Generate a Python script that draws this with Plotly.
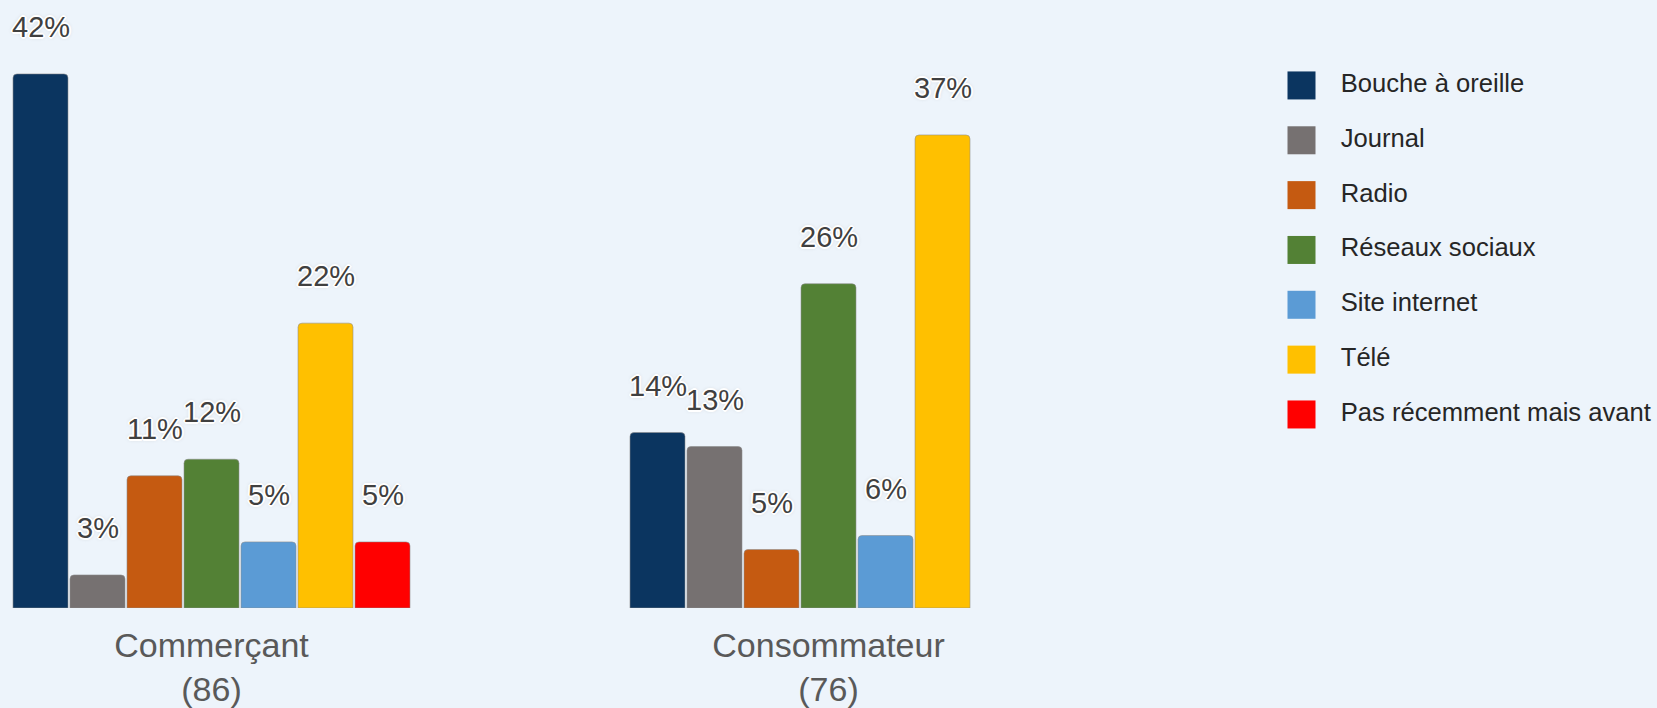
import plotly.graph_objects as go

categories = ["Commerçant<br>(86)", "Consommateur<br>(76)"]
series = ["Bouche à oreille", "Journal", "Radio", "Réseaux sociaux",
          "Site internet", "Télé", "Pas récemment mais avant"]
colors = ["#0B3560", "#767171", "#C55A11", "#538135", "#5B9BD5", "#FFC000", "#FF0000"]

# values per series: [Commerçant, Consommateur]
values = [
    [42.0, 13.8],
    [2.6, 12.7],
    [10.4, 4.6],
    [11.7, 25.5],
    [5.2, 5.7],
    [22.4, 37.2],
    [5.2, None],
]
labels = [
    ["42%", "14%"],
    ["3%", "13%"],
    ["11%", "5%"],
    ["12%", "26%"],
    ["5%", "6%"],
    ["22%", "37%"],
    ["5%", None],
]

W, H = 1657, 708
BG = "#EDF4FB"
FONT = "Arial, Liberation Sans, sans-serif"
PLOT_H = 612

fig = go.Figure()
for name, col, vals in zip(series, colors, values):
    fig.add_trace(go.Bar(
        x=categories, y=vals, name=name, showlegend=False,
        marker=dict(color=col, line=dict(color="rgba(140,140,140,0.7)", width=0.8)),
        hoverinfo="skip",
    ))

# custom legend (larger swatches) on a secondary axis pair
idx = list(range(len(series)))
fig.add_trace(go.Scatter(
    x=[58.75] * len(series), y=idx, mode="markers",
    marker=dict(symbol="square", size=28, color=colors, line=dict(width=0)),
    xaxis="x2", yaxis="y2", showlegend=False, hoverinfo="skip",
))
fig.add_trace(go.Scatter(
    x=[98] * len(series), y=idx, mode="text", text=series,
    textposition="middle right",
    textfont=dict(size=25.6, color="#262626", family=FONT),
    xaxis="x2", yaxis="y2", showlegend=False, hoverinfo="skip",
))

# data labels with halo
n = len(series)
pitch = 57
shadow = ("1px 1px 0 #fff, -1px -1px 0 #fff, 1px -1px 0 #fff, -1px 1px 0 #fff, "
          "2px 0 0 #fff, -2px 0 0 #fff, 0 2px 0 #fff, 0 -2px 0 #fff, 0 0 4px #bbb")
annotations = []
for i, (vals, labs) in enumerate(zip(values, labels)):
    for j, (v, lab) in enumerate(zip(vals, labs)):
        if v is None or lab is None:
            continue
        annotations.append(dict(
            x=categories[j], y=v, xref="x", yref="y", text=lab, showarrow=False,
            xshift=(i - (n - 1) / 2) * pitch, yshift=47, yanchor="middle",
            font=dict(size=29, color="#404040", family=FONT, shadow=shadow),
        ))

r0 = -211.5 / 617
r1 = r0 + (0.75 * W) / 617
fig.update_layout(
    width=W, height=H,
    paper_bgcolor=BG, plot_bgcolor=BG,
    margin=dict(l=0, r=0, t=0, b=H - PLOT_H),
    barmode="group", bargap=0.3533, bargroupgap=0.035,
    barcornerradius=4,
    annotations=annotations,
    xaxis=dict(domain=[0, 0.75], range=[r0, r1], showgrid=False, zeroline=False,
               showline=False, ticks="", tickfont=dict(size=34, color="#595959", family=FONT),
               ticklabelstandoff=14),
    yaxis=dict(range=[0, PLOT_H / 12.8], visible=False, showgrid=False, zeroline=False),
    xaxis2=dict(domain=[0.75, 1], range=[0, 0.25 * W], visible=False, anchor="y2"),
    yaxis2=dict(domain=[0, 1], range=[-86 / 55.2 + PLOT_H / 55.2, -86 / 55.2],
                visible=False, anchor="x2"),
    showlegend=False,
)

fig.write_html(
    "out.html",
    config={"displayModeBar": False},
    post_script="document.body.style.margin='0';document.body.style.background='#EDF4FB';",
)
